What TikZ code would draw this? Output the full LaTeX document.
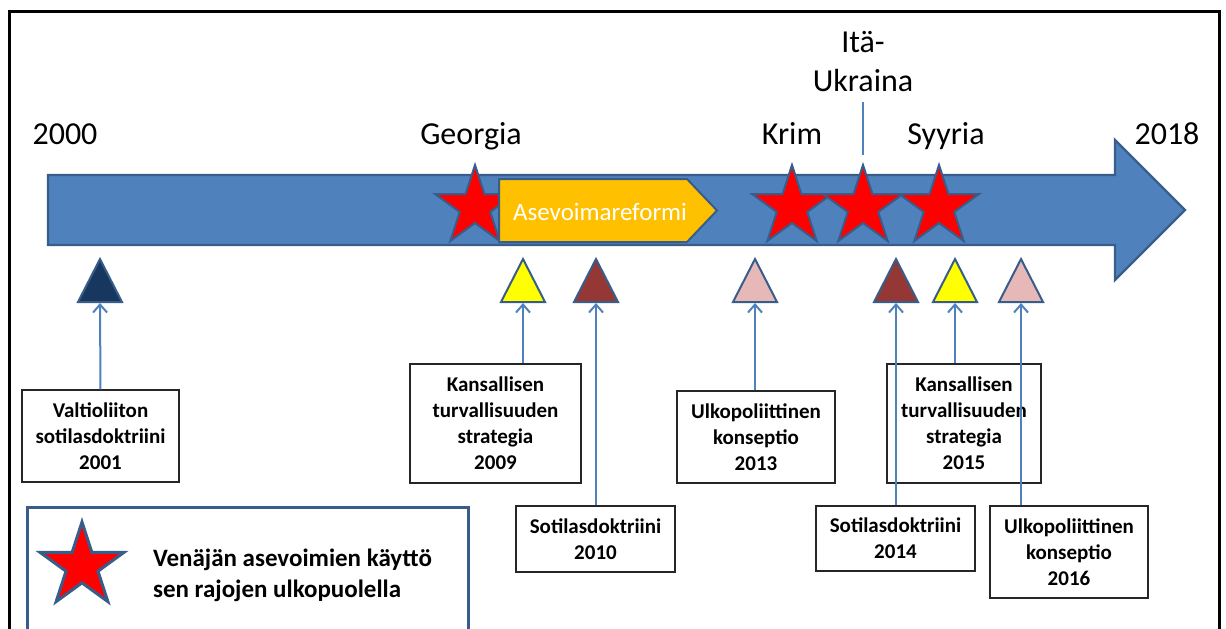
\documentclass[tikz,border=0pt]{standalone}
\usepackage{fontspec}
\setmainfont{Carlito}
\usetikzlibrary{shapes,arrows.meta,positioning,calc}
\definecolor{tlBlue}{HTML}{4F81BD}
\definecolor{tlEdge}{HTML}{385D8A}
\definecolor{tlReform}{HTML}{FFC000}
\definecolor{docNavy}{HTML}{17375E}
\definecolor{docBrown}{HTML}{953735}
\definecolor{docPink}{HTML}{E6B9B8}
\definecolor{docYellow}{HTML}{FFFF00}

\begin{document}
\begin{tikzpicture}[
    x=0.5pt, y=-0.5pt,
    year/.style={font=\fontsize{16}{19.5}\selectfont, anchor=base, align=center},
    event/.style={star, star points=5, star point ratio=2.618, minimum size=42pt, inner sep=0pt, fill=red, draw=tlEdge, line width=1pt},
    tri/.style={isosceles triangle, isosceles triangle stretches, shape border rotate=90, minimum width=22pt, minimum height=21.5pt, inner sep=0pt, draw=tlEdge, line width=1pt, anchor=south},
    doc/.style={draw=black!85, line width=0.6pt, fill=white, align=center, inner sep=2pt, font=\fontsize{10.5}{13}\selectfont\bfseries},
    link/.style={draw=tlBlue, line width=1pt, -{Straight Barb[length=4pt,width=7pt]}}
]
\useasboundingbox (0,0) rectangle (1226,628);

% ===== FRAME AND LEGEND BOX =====
\begin{scope}
\clip (0,0) rectangle (1226,628);
\draw[black, line width=1.5pt] (9,11) rectangle (1219,680);
\draw[tlEdge, line width=1.5pt] (27,507) rectangle (468,680);
\end{scope}

% ===== TIMELINE =====
\filldraw[fill=tlBlue, draw=tlEdge, line width=1.2pt] (48,175) -- (1115,175) -- (1115,140) -- (1185,210) -- (1115,280) -- (1115,245) -- (48,245) -- cycle;
\node[year] (y2000) at (65,144) {2000};
\node[year] (y2018) at (1167,144) {2018};

% ===== EVENTS =====
\node[event] (georgia) at (475,207) {};
\filldraw[fill=tlReform, draw=tlEdge, line width=1pt] (499,179) -- (687,179) -- (717,210.5) -- (687,242) -- (499,242) -- cycle;
\node[text=white, font=\fontsize{12.5}{15}\selectfont] (reform) at (600,212) {Asevoimareformi};
\node[event] (krim) at (792,207) {};
\node[event] (ukraina) at (863,207) {};
\node[event] (syyria) at (939,207) {};

\node[year] (lGeorgia) at (471,144) {Georgia};
\node[year] (lKrim) at (792,144) {Krim};
\node[year] (lUkraina) at (863,91) {Itä-\\Ukraina};
\node[year] (lSyyria) at (946,144) {Syyria};
\draw[tlBlue, line width=0.6pt, shorten <=2pt, shorten >=3.5pt] (lUkraina.south) -- (ukraina.north);

% ===== DOCUMENT MARKERS =====
\node[tri, fill=docNavy] (t1) at (100,303) {};
\node[tri, fill=docYellow] (t2) at (523,303) {};
\node[tri, fill=docBrown] (t3) at (596,303) {};
\node[tri, fill=docPink] (t4) at (755,303) {};
\node[tri, fill=docBrown] (t5) at (896,303) {};
\node[tri, fill=docYellow] (t6) at (955,303) {};
\node[tri, fill=docPink] (t7) at (1021,303) {};

% ===== DOCUMENTS =====
\node[doc, minimum width=78.5pt, minimum height=46pt] (B2001) at (100.5,436) {Valtioliiton\\sotilasdoktriini\\2001};
\node[doc, minimum width=85.5pt, minimum height=59.5pt] (B2009) at (495.5,423.5) {Kansallisen\\turvallisuuden\\strategia\\2009};
\node[doc, minimum width=79.5pt, minimum height=33pt] (B2010) at (595.5,539) {Sotilasdoktriini\\2010};
\node[doc, minimum width=79pt, minimum height=46pt] (B2013) at (756,437) {Ulkopoliittinen\\konseptio\\2013};
\node[doc, minimum width=77pt, minimum height=59.5pt] (B2015) at (964,423.5) {Kansallisen\\turvallisuuden\\strategia\\2015};
\node[doc, minimum width=79.5pt, minimum height=32.5pt] (B2014) at (895.5,538.5) {Sotilasdoktriini\\2014};
\node[doc, minimum width=79pt, minimum height=46pt] (B2016) at (1069,552) {Ulkopoliittinen\\konseptio\\2016};

\draw[link] (B2001.north) -- (t1.south);
\draw[link] (t2 |- B2009.north) -- (t2.south);
\draw[link] (t3 |- B2010.north) -- (t3.south);
\draw[link] (t4 |- B2013.north) -- (t4.south);
\draw[link] (t5 |- B2014.north) -- (t5.south);
\draw[link] (t6 |- B2015.north) -- (t6.south);
\draw[link] (t7 |- B2016.north) -- (t7.south);

% ===== LEGEND =====
\node[event, minimum size=44pt, line width=1.5pt] (legStar) at (82,566) {};
\node[font=\fontsize{12.5}{15.5}\selectfont\bfseries, align=left, anchor=west] (legText) at (146,575) {Venäjän asevoimien käyttö\\sen rajojen ulkopuolella};

\end{tikzpicture}
\end{document}
